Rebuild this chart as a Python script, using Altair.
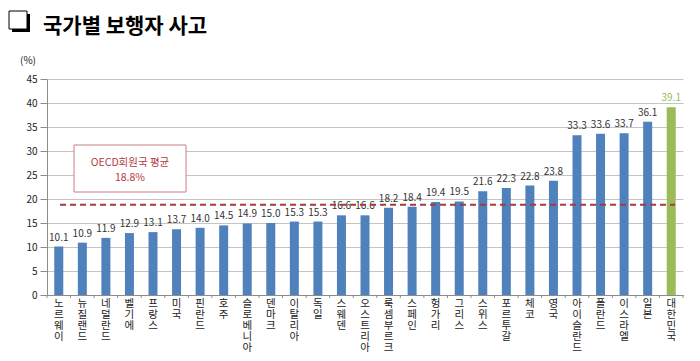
import altair as alt
import pandas as pd

countries = ["노르웨이", "뉴질랜드", "네덜란드", "벨기에", "프랑스", "미국", "핀란드", "호주",
             "슬로베니아", "덴마크", "이탈리아", "독일", "스웨덴", "오스트리아", "룩셈부르크",
             "스페인", "헝가리", "그리스", "스위스", "포르투갈", "체코", "영국", "아이슬란드",
             "폴란드", "이스라엘", "일본", "대한민국"]
values = [10.1, 10.9, 11.9, 12.9, 13.1, 13.7, 14.0, 14.5, 14.9, 15.0, 15.3, 15.3, 16.6, 16.6,
          18.2, 18.4, 19.4, 19.5, 21.6, 22.3, 22.8, 23.8, 33.3, 33.6, 33.7, 36.1, 39.1]
highlight = "대한민국"
oecd_avg = 18.8
y_ticks = [0, 5, 10, 15, 20, 25, 30, 35, 40, 45]
title_text = "국가별 보행자 사고"
box_lines = ["OECD회원국 평균", "18.8%"]

FONT = "Noto Sans CJK KR"
BLUE = "#4F81BD"
GREEN = "#9BBB59"
RED = "#A8383A"

df = pd.DataFrame({"country": countries, "value": values})
df["kr"] = df["country"] == highlight
df["label"] = df["value"].map(lambda v: f"{v:.1f}")

W, H = 636, 216

xaxis = alt.Axis(title=None, labelExpr="split(datum.label, '')", labelAngle=0,
                 labelBaseline="top", labelPadding=3, ticks=False,
                 domainColor="#8C8C8C", labelFontSize=10.5, labelLineHeight=11,
                 labelColor="#222222", labelOverlap=False, labelFont=FONT)
yaxis = alt.Axis(title=None, values=y_ticks, tickSize=7, labelPadding=3,
                 grid=True, gridColor="#C4C4C4", domainColor="#8C8C8C",
                 tickColor="#8C8C8C", labelFontSize=10, labelColor="#222222",
                 labelFont=FONT, labelOverlap=False)
yscale = alt.Scale(domain=[0, 45], nice=False)
xscale = alt.Scale(paddingInner=0, paddingOuter=0)

base = alt.Chart(df)
bars = base.mark_bar(size=9).encode(
    x=alt.X("country:N", sort=countries, scale=xscale, axis=xaxis),
    y=alt.Y("value:Q", scale=yscale, axis=yaxis),
    color=alt.condition("datum.kr", alt.value(GREEN), alt.value(BLUE)))
labels = base.mark_text(baseline="bottom", dy=-4, fontSize=10, font=FONT).encode(
    x=alt.X("country:N", sort=countries, scale=xscale, axis=xaxis),
    y=alt.Y("value:Q", scale=yscale, axis=yaxis), text="label:N",
    color=alt.condition("datum.kr", alt.value(GREEN), alt.value("#333333")))
xticks = base.mark_rule(color="#8C8C8C").encode(
    x=alt.X("country:N", sort=countries, bandPosition=0, scale=xscale, axis=xaxis),
    y=alt.value(H), y2=alt.value(H + 3))
last_tick = alt.Chart(pd.DataFrame({"k": [1]})).mark_rule(color="#8C8C8C").encode(
    x=alt.value(W), y=alt.value(H), y2=alt.value(H + 3))

avg_line = alt.Chart(pd.DataFrame({"value": [oecd_avg]})).mark_rule(
    color=RED, strokeWidth=2, strokeDash=[6, 4]).encode(
    y=alt.Y("value:Q", scale=yscale, axis=yaxis), x=alt.value(13), x2=alt.value(628))

box = alt.Chart(pd.DataFrame({"k": [1]})).mark_rect(
    fill="white", stroke="#C97E80", strokeWidth=1).encode(
    x=alt.value(27), x2=alt.value(139), y=alt.value(66), y2=alt.value(113))
box_t1 = alt.Chart(pd.DataFrame({"t": [box_lines[0]]})).mark_text(
    color="#B23C3E", fontSize=10.5, font=FONT, baseline="middle").encode(
    text="t:N", x=alt.value(83), y=alt.value(84))
box_t2 = alt.Chart(pd.DataFrame({"t": [box_lines[1]]})).mark_text(
    color="#B23C3E", fontSize=10.5, font=FONT, baseline="middle").encode(
    text="t:N", x=alt.value(83), y=alt.value(99))

title = alt.Chart(pd.DataFrame({"t": [title_text]})).mark_text(
    align="left", baseline="alphabetic", fontSize=21, fontWeight="bold", font=FONT,
    color="black").encode(text="t:N", x=alt.value(-4), y=alt.value(-46))
shadow = alt.Chart(pd.DataFrame({"k": [1]})).mark_rect(fill="black").encode(
    x=alt.value(-35), x2=alt.value(-17), y=alt.value(-65), y2=alt.value(-47))
square = alt.Chart(pd.DataFrame({"k": [1]})).mark_rect(
    fill="white", stroke="black", strokeWidth=1).encode(
    x=alt.value(-38), x2=alt.value(-20), y=alt.value(-68), y2=alt.value(-50))
unit = alt.Chart(pd.DataFrame({"t": ["(%)"]})).mark_text(
    fontSize=10, font=FONT, color="#222222", baseline="middle").encode(
    text="t:N", x=alt.value(-19), y=alt.value(-18))

chart = alt.layer(bars, labels, xticks, last_tick, avg_line, box, box_t1, box_t2,
                  shadow, square, title, unit).properties(
    width=W, height=H,
    padding={"left": 39, "top": 71, "right": 9, "bottom": 58},
    autosize=alt.AutoSizeParams(type="none"),
).configure_view(stroke=None)

chart.save("out.html", embed_options={"renderer": "svg", "actions": False})
